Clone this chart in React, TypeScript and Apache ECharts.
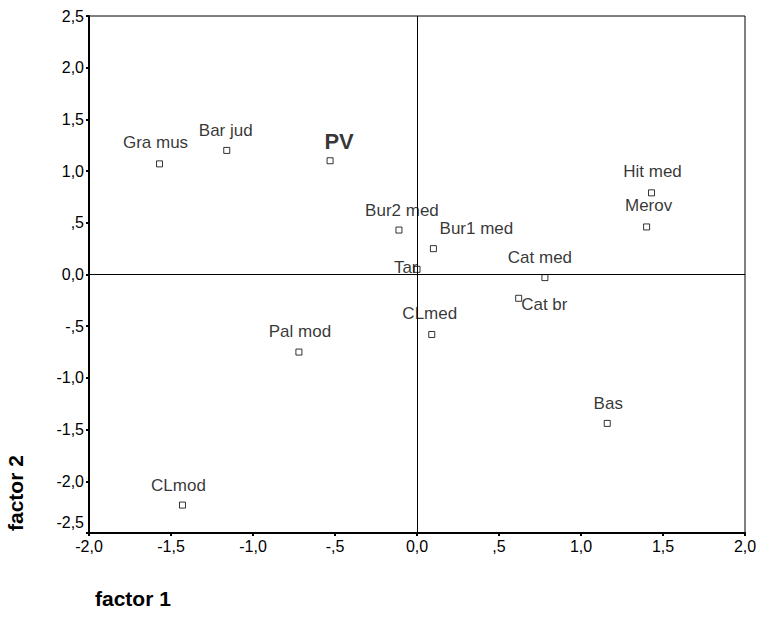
import React, { useEffect, useRef } from "react";
import * as echarts from "echarts";

const names = ["Gra mus", "Bar jud", "PV", "Bur2 med", "Bur1 med", "Tar", "Cat med", "Cat br", "Pal mod", "CLmed", "Hit med", "Merov", "Bas", "CLmod"];
const factor1 = [-1.57, -1.16, -0.53, -0.11, 0.1, 0.0, 0.78, 0.62, -0.72, 0.09, 1.43, 1.4, 1.16, -1.43];
const factor2 = [1.07, 1.2, 1.1, 0.43, 0.25, 0.05, -0.03, -0.23, -0.75, -0.58, 0.79, 0.46, -1.44, -2.23];

const xTickLabels = ["-2,0", "-1,5", "-1,0", "-,5", "0,0", ",5", "1,0", "1,5", "2,0"];
const yTickLabels = ["-2,5", "-2,0", "-1,5", "-1,0", "-,5", "0,0", ",5", "1,0", "1,5", "2,0", "2,5"];

const FONT = "'Liberation Sans', Arial, sans-serif";

// label placement styles (per point)
const labelStyles: Record<string, any> = {
  "Gra mus": { offset: [-4, -1] },
  "Bar jud": { offset: [-1, 0] },
  PV: { offset: [9, 3], fontWeight: "bold", fontSize: 22 },
  "Bur2 med": { offset: [3, 0] },
  "Bur1 med": { offset: [43, 0] },
  Tar: { position: "left", distance: 0, offset: [4, -2] },
  "Cat med": { offset: [-5, 0] },
  "Cat br": { position: "right", distance: 0, offset: [-1, 6] },
  "Pal mod": { offset: [1, -1] },
  CLmed: { offset: [-2, -1] },
  "Hit med": { offset: [1, -1] },
  Merov: { offset: [2, -1] },
  Bas: { offset: [1, 0] },
  CLmod: { offset: [-4, 0] },
};

export default function App() {
  const ref = useRef<HTMLDivElement>(null);
  useEffect(() => {
    if (!ref.current) return;
    const chart = echarts.init(ref.current, undefined, { renderer: "svg" });
    const data = names.map((n, i) => ({
      name: n,
      value: [factor1[i], factor2[i]],
      label: labelStyles[n] || {},
    }));
    chart.setOption({
      animation: false,
      backgroundColor: "#fff",
      grid: {
        left: 89,
        top: 16,
        width: 656,
        height: 517,
        show: true,
        borderColor: "#000",
        borderWidth: 1,
        backgroundColor: "transparent",
      },
      xAxis: {
        type: "value",
        min: -2,
        max: 2,
        interval: 0.5,
        splitLine: { show: false },
        axisLine: { show: true, onZero: false, lineStyle: { color: "#000", width: 2 } },
        axisTick: { show: true, length: 3, lineStyle: { color: "#000", width: 2 } },
        axisLabel: {
          color: "#000",
          fontFamily: FONT,
          fontSize: 16,
          margin: 5,
          formatter: (v: number) => xTickLabels[Math.round((v + 2) / 0.5)] ?? "",
        },
      },
      yAxis: {
        type: "value",
        min: -2.5,
        max: 2.5,
        interval: 0.5,
        splitLine: { show: false },
        axisLine: { show: true, onZero: false, lineStyle: { color: "#000", width: 2 } },
        axisTick: { show: true, length: 3, lineStyle: { color: "#000", width: 2 } },
        axisLabel: {
          color: "#000",
          fontFamily: FONT,
          fontSize: 16,
          margin: 5,
          formatter: (v: number) => {
            const idx = Math.round((v + 2.5) / 0.5);
            const t = yTickLabels[idx] ?? "";
            return idx === 0 ? `{low|${t}}` : t;
          },
          rich: {
            low: { fontFamily: FONT, fontSize: 16, color: "#000", padding: [0, 0, 22, 0] },
          },
        },
      },
      graphic: [
        {
          type: "text",
          left: 95,
          top: 588,
          style: { text: "factor 1", font: `bold 21px ${FONT}`, fill: "#000" },
        },
        {
          type: "text",
          x: 5,
          y: 531,
          rotation: Math.PI / 2,
          style: { text: "factor 2", font: `bold 21px ${FONT}`, fill: "#000" },
        },
      ],
      series: [
        {
          type: "scatter",
          symbol: "rect",
          symbolSize: 6,
          itemStyle: { color: "#fff", borderColor: "#000", borderWidth: 1 },
          label: {
            show: true,
            position: "top",
            distance: 8,
            color: "#000",
            fontFamily: FONT,
            fontSize: 17,
            formatter: (p: any) => p.name,
          },
          data,
          markLine: {
            silent: true,
            symbol: "none",
            label: { show: false },
            lineStyle: { color: "#000", width: 1, type: "solid" },
            data: [{ xAxis: 0 }, { yAxis: 0 }],
          },
          z: 3,
        },
      ],
    });
    return () => chart.dispose();
  }, []);
  return <div ref={ref} style={{ position: "fixed", left: 0, top: 0, width: 761, height: 622 }} />;
}
